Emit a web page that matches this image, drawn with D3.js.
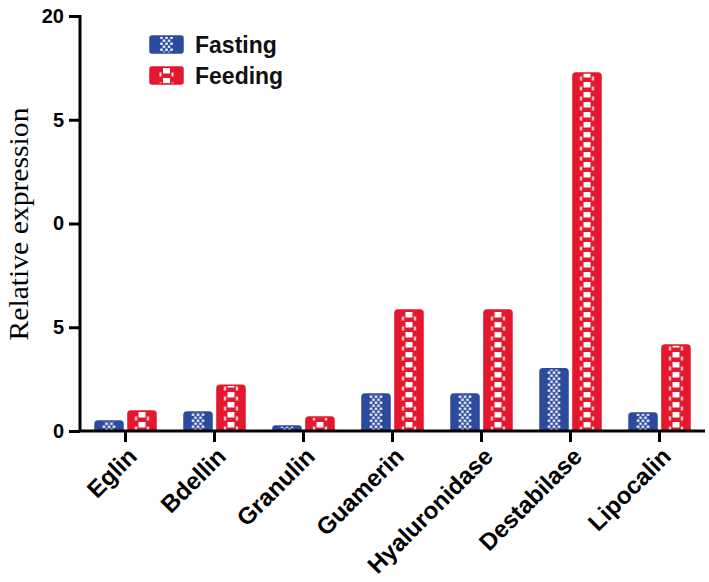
<!DOCTYPE html>
<html>
<head>
<meta charset="utf-8">
<script src="https://cdn.jsdelivr.net/npm/d3@7/dist/d3.min.js"></script>
<style>
  body { margin: 0; background: #fff; }
  svg { display: block; }
</style>
</head>
<body>
<div id="chart"></div>
<script>
const categories = ["Eglin", "Bdellin", "Granulin", "Guamerin", "Hyaluronidase", "Destabilase", "Lipocalin"];
const seriesNames = ["Fasting", "Feeding"];
const fasting = [0.48, 0.92, 0.24, 1.78, 1.78, 3.0, 0.87];
const feeding = [0.96, 2.2, 0.67, 5.83, 5.83, 17.25, 4.14];
const yTicks = [0, 5, 10, 15, 20];
const yTickLabels = ["0", "5", "0", "5", "20"];
const yTitle = "Relative expression";

const W = 709, H = 582;
const colors = { Fasting: "#2c4b9e", Feeding: "#e3172d" };

const svg = d3.select("#chart").append("svg").attr("width", W).attr("height", H);
const defs = svg.append("defs");

const x0 = d3.scaleBand().domain(categories).range([81, 704]).padding(0);
const x1 = d3.scaleBand().domain(seriesNames).range([-30.5, 30.5]).paddingInner(0.15);
const y = d3.scaleLinear().domain([0, 20]).range([431, 16]);

const rows = categories.map((c, i) => ({ cat: c, values: [
  { s: "Fasting", v: fasting[i] }, { s: "Feeding", v: feeding[i] }
]}));

function makePattern(id, s, px, py, bw) {
  if (s === "Feeding") {
    const p = defs.append("pattern").attr("id", id).attr("patternUnits", "userSpaceOnUse")
      .attr("x", px).attr("y", py).attr("width", bw).attr("height", 10);
    p.append("rect").attr("width", bw).attr("height", 10).attr("fill", colors.Feeding);
    p.append("rect").attr("x", bw / 2 - 3.5).attr("y", 1).attr("width", 7).attr("height", 5.5).attr("fill", "#fff");
    p.append("rect").attr("x", bw / 2 - 7).attr("y", 5.5).attr("width", 2).attr("height", 4).attr("fill", "#fff").attr("opacity", 0.9);
    p.append("rect").attr("x", bw / 2 + 5).attr("y", 5.5).attr("width", 2).attr("height", 4).attr("fill", "#fff").attr("opacity", 0.9);
  } else {
    const p = defs.append("pattern").attr("id", id).attr("patternUnits", "userSpaceOnUse")
      .attr("x", px).attr("y", py).attr("width", bw).attr("height", 6);
    p.append("rect").attr("width", bw).attr("height", 6).attr("fill", colors.Fasting);
    [bw / 2 - 5, bw / 2, bw / 2 + 5].forEach(cx =>
      p.append("rect").attr("x", cx - 1.3).attr("y", 0.5).attr("width", 2.6).attr("height", 2.4).attr("fill", "#fff").attr("opacity", 0.9));
    [bw / 2 - 2.5, bw / 2 + 2.5].forEach(cx =>
      p.append("rect").attr("x", cx - 1.3).attr("y", 3.5).attr("width", 2.6).attr("height", 2.4).attr("fill", "#fff").attr("opacity", 0.9));
  }
}

// bars
const g = svg.append("g");
rows.forEach((r, i) => {
  r.values.forEach(d => {
    const bx = x0(r.cat) + x0.bandwidth() / 2 + x1(d.s);
    const bw = x1.bandwidth();
    const id = "pat" + i + d.s;
    makePattern(id, d.s, bx, y(0), bw);
    const top = y(d.v);
    const h = y(0) - top;
    const rr = Math.min(3, h / 2);
    const path = `M${bx},${y(0)} L${bx},${top + rr} Q${bx},${top} ${bx + rr},${top} L${bx + bw - rr},${top} Q${bx + bw},${top} ${bx + bw},${top + rr} L${bx + bw},${y(0)} Z`;
    g.append("path").attr("d", path).attr("fill", `url(#${id})`)
      .attr("stroke", colors[d.s]).attr("stroke-width", 1.5);
  });
});

// y axis
const yAxis = d3.axisLeft(y).tickValues(yTicks).tickSize(11).tickPadding(5)
  .tickFormat((d, i) => yTickLabels[i]);
const gy = svg.append("g").attr("transform", "translate(80,0)").call(yAxis);
gy.select(".domain").attr("stroke", "#000").attr("stroke-width", 3).attr("d", `M0,${y(20) - 1}V${y(0)}`);
gy.selectAll(".tick line").attr("stroke", "#000").attr("stroke-width", 3);
gy.selectAll(".tick text").attr("font-family", "Liberation Sans, Arial, sans-serif")
  .attr("font-weight", "bold").attr("font-size", 20).attr("fill", "#000");

// x axis
const xAxis = d3.axisBottom(x0).tickSize(11).tickPadding(4);
const gx = svg.append("g").attr("transform", "translate(0,431)").call(xAxis);
gx.select(".domain").attr("stroke", "#000").attr("stroke-width", 3).attr("d", "M79,0H705");
gx.selectAll(".tick line").attr("stroke", "#000").attr("stroke-width", 3);
gx.selectAll(".tick text")
  .attr("font-family", "Liberation Sans, Arial, sans-serif")
  .attr("font-weight", "bold").attr("font-size", 24).attr("fill", "#000")
  .attr("text-anchor", "end")
  .attr("transform", "translate(7,21) rotate(-45)")
  .attr("dy", "0.35em").attr("y", 0);

// y title
svg.append("text")
  .attr("transform", "translate(28,224) rotate(-90)")
  .attr("text-anchor", "middle")
  .attr("font-family", "Liberation Serif, Times New Roman, serif")
  .attr("font-size", 27)
  .attr("textLength", 233).attr("lengthAdjust", "spacingAndGlyphs")
  .attr("fill", "#000")
  .text(yTitle);

// legend
const legend = svg.append("g");
seriesNames.forEach((s, i) => {
  const ly = 36 + i * 31;
  const id = "leg" + s;
  makePattern(id, s, 150, ly, 33);
  legend.append("rect").attr("x", 150).attr("y", ly).attr("width", 33).attr("height", 17)
    .attr("rx", 2).attr("fill", `url(#${id})`).attr("stroke", colors[s]).attr("stroke-width", 1.5);
  legend.append("text").attr("x", 195).attr("y", ly + 17)
    .attr("font-family", "Liberation Sans, Arial, sans-serif")
    .attr("font-weight", "bold").attr("font-size", 23).attr("fill", "#111")
    .text(s);
});
</script>
</body>
</html>
